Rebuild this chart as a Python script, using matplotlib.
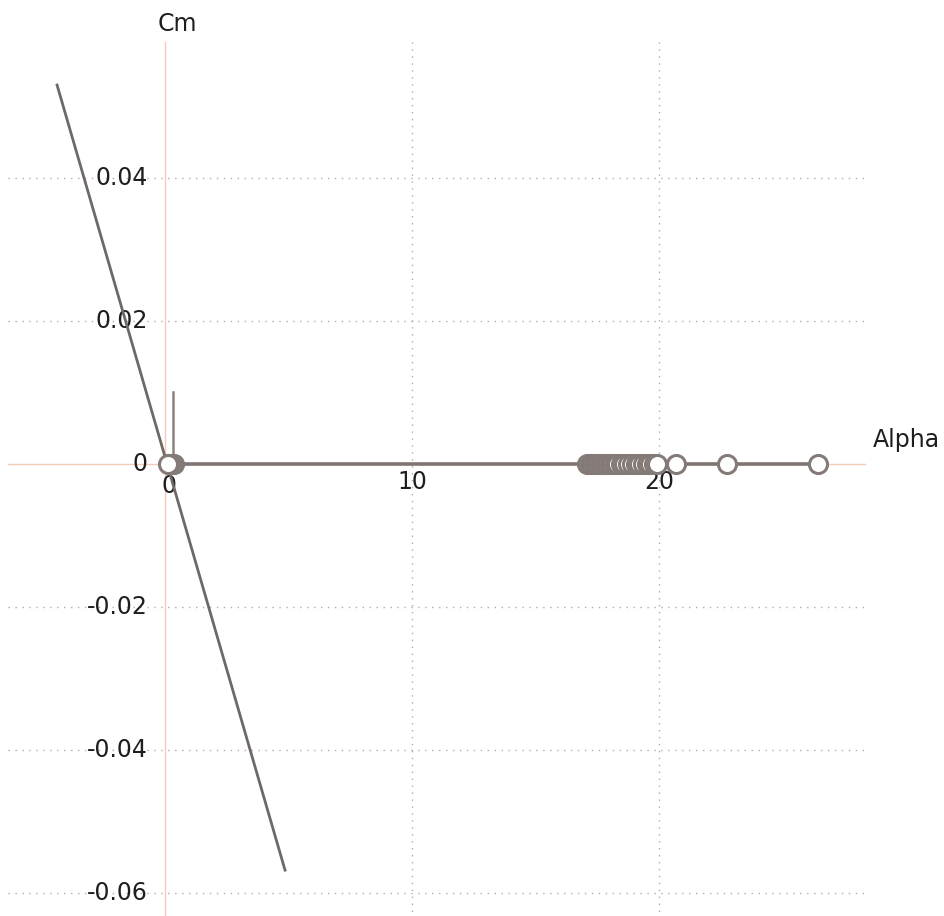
import matplotlib
matplotlib.use("Agg")
import matplotlib.pyplot as plt

# Polar points: Cm against Alpha (series order as computed)
alpha_pts = [0.36, 0.3, 0.24, 0.18, 0.12,
             17.1, 17.2, 17.3, 17.4, 17.5, 17.6, 17.7, 17.8, 17.9, 18.0,
             18.1, 18.2, 18.3, 18.45, 18.6, 18.75, 18.9, 19.05, 19.2, 19.35,
             19.5, 19.65, 19.8, 19.9, 20.7, 22.75, 26.45]
cm_pts = [0.0] * len(alpha_pts)

# Short vertical segment near the origin
alpha_seg = [0.33, 0.33]
cm_seg = [0.0, 0.0101]

# Sloped Cm line
alpha_line = [-4.37, 4.86]
cm_line = [0.053, -0.0568]

x_ticks = [0, 10, 20]
y_ticks = [0.04, 0.02, 0, -0.02, -0.04, -0.06]
y_tick_labels = ["0.04", "0.02", "0", "-0.02", "-0.04", "-0.06"]

W, H = 944, 916
fig = plt.figure(figsize=(W / 100, H / 100), dpi=100)
ax = fig.add_axes([0, 0, 1, 1])
ax.set_axis_off()

# pixel <-> data mapping
px_per_x = 24.7
x0_px = 165
px_per_y = 7150.0
y0_px = 464
ax.set_xlim((0 - x0_px) / px_per_x, (W - x0_px) / px_per_x)
ax.set_ylim((y0_px - H) / px_per_y, (y0_px - 0) / px_per_y)

def dx(px):
    return (px - x0_px) / px_per_x

def dy(py):
    return (y0_px - py) / px_per_y

axis_col = "#f3cbb8"
grid_col = "#b5aaa6"
x_left, x_right = dx(8), dx(865)
y_top = dy(42)
y_bot = dy(H)

# dotted grid
for yv in y_ticks:
    if yv != 0:
        ax.plot([x_left, x_right], [yv, yv], linestyle=(0, (1, 4)),
                color=grid_col, lw=1.0, zorder=1)
for xv in x_ticks:
    if xv != 0:
        ax.plot([xv, xv], [y_top, y_bot], linestyle=(0, (1, 4)),
                color=grid_col, lw=1.0, zorder=1)

# axes lines
ax.plot([x_left, x_right], [0, 0], color=axis_col, lw=1.0, zorder=1)
ax.plot([0, 0], [y_top, y_bot], color=axis_col, lw=1.0, zorder=1)

# tick labels
font = dict(family="DejaVu Sans", fontsize=17, color="#1e1e1e")
for yv, lab in zip(y_ticks, y_tick_labels):
    ax.text(dx(148), yv, lab, ha="right", va="center", zorder=2, **font)
for xv in x_ticks:
    if xv == 0:
        ax.text(dx(169), dy(474), "0", ha="center", va="top", zorder=2, **font)
    else:
        ax.text(xv, dy(470), str(xv), ha="center", va="top", zorder=2, **font)

ax.text(dx(177), dy(12), "Cm", ha="center", va="top", zorder=2, **font)
ax.text(dx(873), dy(440), "Alpha", ha="left", va="center", zorder=2, **font)

# data
ax.plot(alpha_line, cm_line, color="#6f6965", lw=2.0, zorder=3)
ax.plot(alpha_seg, cm_seg, color="#8a8280", lw=1.8, zorder=3)
ax.plot(alpha_pts, cm_pts, color="#7f7572", lw=2.6, marker="o",
        markersize=13, markerfacecolor="white", markeredgecolor="#847a77",
        markeredgewidth=2.2, zorder=4)

fig.savefig("out.png", dpi=100, facecolor="white")
